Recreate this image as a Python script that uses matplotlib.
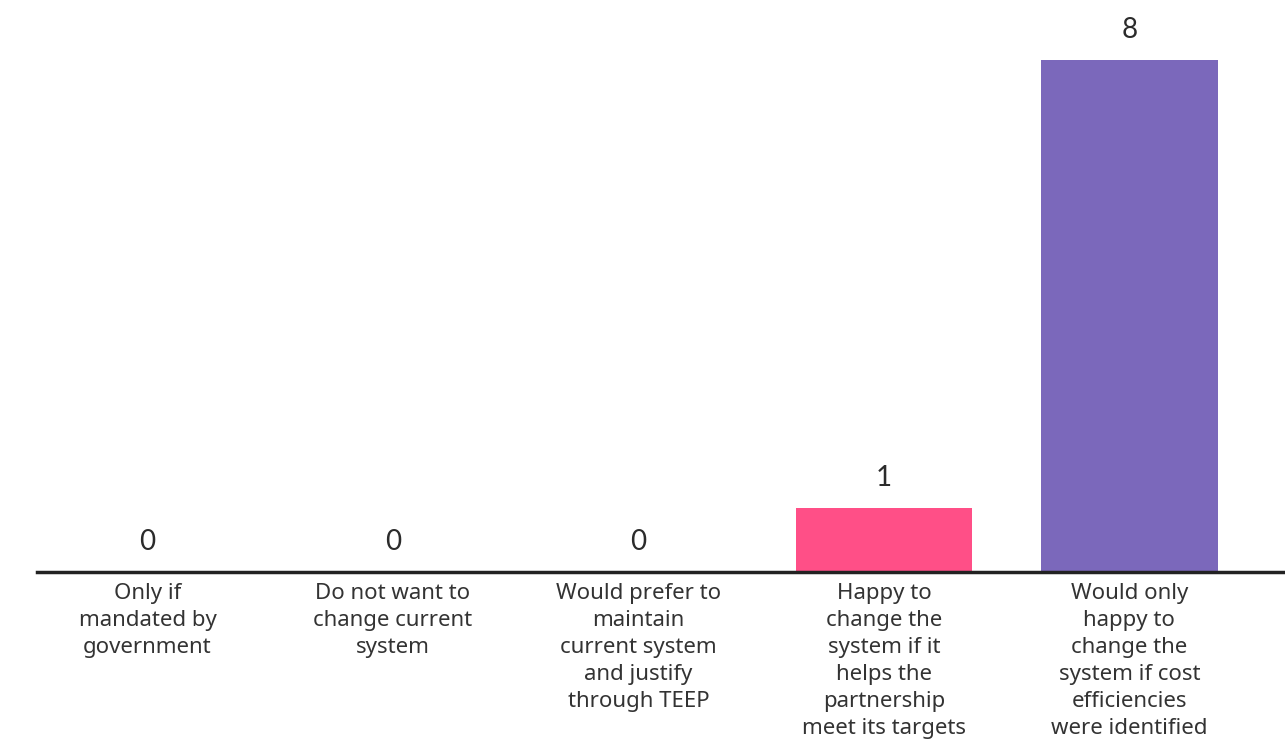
import matplotlib
matplotlib.use('Agg')
import matplotlib.pyplot as plt

plt.rcParams['font.family'] = ['Noto Sans', 'DejaVu Sans']

# survey responses
categories = ['Only if\nmandated by\ngovernment',
              'Do not want to\nchange current\nsystem',
              'Would prefer to\nmaintain\ncurrent system\nand justify\nthrough TEEP',
              'Happy to\nchange the\nsystem if it\nhelps the\npartnership\nmeet its targets',
              'Would only\nhappy to\nchange the\nsystem if cost\nefficiencies\nwere identified']
counts = [0, 0, 0, 1, 8]
colors = ['#ff4f87', '#ff4f87', '#ff4f87', '#ff4f87', '#7b68bb']

fig = plt.figure(figsize=(12.85, 7.45), dpi=100)
ax = fig.add_axes([37 / 1285, 1 - 572 / 745, 1 - 37 / 1285, 512 / 745])

x = range(len(categories))
ax.bar(x, counts, width=0.72, color=colors)

# value labels above each bar
for xi, v in zip(x, counts):
    ax.text(xi, v + 0.26, str(v), ha='center', va='bottom',
            fontsize=20, color='#2b2b2b', clip_on=False,
            fontfamily=['Lato', 'DejaVu Sans'])

ax.set_xlim(-0.45, 4.634)
ax.set_ylim(0, 8)

for side in ['top', 'right', 'left']:
    ax.spines[side].set_visible(False)
ax.spines['bottom'].set_linewidth(2.5)
ax.spines['bottom'].set_color('#222222')

ax.set_yticks([])
ax.set_xticks(list(x))
ax.set_xticklabels(categories, fontsize=16, color='#333333', linespacing=1.37)
ax.tick_params(axis='x', length=0, pad=8)

fig.savefig('out.png', dpi=100)
